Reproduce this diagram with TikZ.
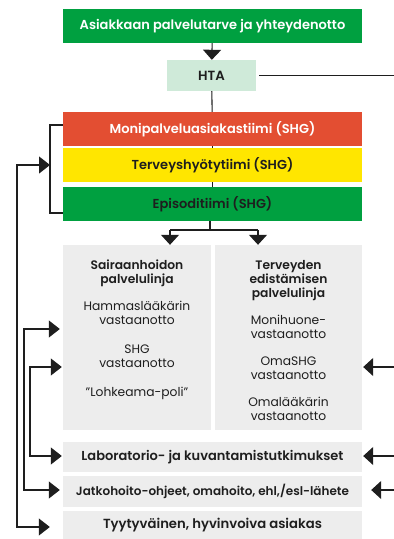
\documentclass[tikz,border=0pt]{standalone}
\usepackage{fontspec}
\setmainfont{Poppins}[BoldFont={* SemiBold}]
\usetikzlibrary{arrows.meta,positioning}
\definecolor{shggreen}{HTML}{00A040}
\definecolor{shgred}{HTML}{E34E32}
\definecolor{shgyellow}{HTML}{FFE600}
\definecolor{htagreen}{HTML}{CFEAD9}
\definecolor{boxgrey}{HTML}{EDEDED}
\definecolor{inkgrey}{HTML}{1E1E1E}
\tikzset{
  bar/.style={minimum width=299pt, minimum height=34pt, inner sep=0pt,
              text=inkgrey, font=\fontsize{13}{15}\selectfont\bfseries},
  htabox/.style={fill=htagreen, minimum width=89pt, minimum height=31pt,
                 inner sep=0pt, text=inkgrey, font=\fontsize{13.3}{15}\selectfont\bfseries},
  linebox/.style={fill=boxgrey, minimum height=185pt, inner sep=0pt},
  linetext/.style={align=center, inner sep=0pt, text=inkgrey,
                   font=\fontsize{12.3}{14}\selectfont},
  rowbox/.style={fill=boxgrey, minimum width=299pt, inner sep=0pt,
                 text=inkgrey, font=\fontsize{13}{15}\selectfont\bfseries},
  conn/.style={line width=1.1pt, draw=inkgrey},
  arr/.style={conn, -{Triangle[length=10pt, width=18pt]}},
  twoway/.style={conn, {Triangle[length=11pt, width=17pt]}-{Triangle[length=11pt, width=17pt]}}
}
\begin{document}
\begin{tikzpicture}[x=1pt, y=-1pt]
  \useasboundingbox (0,0) rectangle (394,539);
  % boxes
  \node[bar, fill=shggreen, text=white] (need) at (212.5,26) {Asiakkaan palvelutarve ja yhteydenotto};
  \node[htabox] (hta) at (211.5,75.5) {HTA};
  \node[bar, fill=shgred, text=white] (multi) at (212.5,129) {Monipalveluasiakastiimi (SHG)};
  \node[bar, fill=shgyellow] (health) at (212.5,165) {Terveyshyötytiimi (SHG)};
  \node[bar, fill=shggreen] (episode) at (212.5,204) {Episoditiimi (SHG)};
  \node[linebox, minimum width=148pt] (care) at (137,337.5) {};
  \node[linebox, minimum width=147pt] (promo) at (288.5,337.5) {};
  \node[linetext, below=15pt of care.north] (caretext)
    {\textbf{Sairaanhoidon}\\\textbf{palvelulinja}\\[13pt]
     Hammaslääkärin\\vastaanotto\\[15pt]
     SHG\\vastaanotto\\[15pt]
     "Lohkeama-poli"};
  \node[linetext, below=15pt of promo.north] (promotext)
    {\textbf{Terveyden}\\\textbf{edistämisen}\\\textbf{palvelulinja}\\[13pt]
     Monihuone-\\vastaanotto\\[13pt]
     OmaSHG\\vastaanotto\\[13pt]
     Omalääkärin\\vastaanotto};
  \node[rowbox, minimum height=30pt] (lab) at (212.5,457) {Laboratorio- ja kuvantamistutkimukset};
  \node[rowbox, minimum height=31pt, font=\fontsize{12}{14}\selectfont\bfseries] (cont) at (212.5,491.5) {Jatkohoito-ohjeet, omahoito, ehl,/esl-lähete};
  \node[rowbox, minimum height=28pt, font=\fontsize{13.2}{15}\selectfont\bfseries] (happy) at (212.5,525) {Tyytyväinen, hyvinvoiva asiakas};

  % helper points
  \coordinate (split) at (210,230);
  \coordinate (splitL) at (170,230);
  \coordinate (splitR) at (258,230);
  \coordinate (brtop) at (50,125);
  \coordinate (brbot) at (50,213);
  \coordinate (brmid) at (50,165);
  \coordinate (edge) at (394,0);

  % main flow
  \draw[arr] (need) -- (hta);
  \draw[conn] ([xshift=3pt]hta.east) -- (hta.east -| edge);
  \draw[conn] (hta) -- (multi);
  \draw[conn] (multi) -- (health);
  \draw[conn] (health) -- (episode);
  \draw[conn] (episode.south -| split) -- (split);
  \draw[conn] (splitL) -- (splitR);
  \draw[arr] (splitL) -- (splitL |- care.north);
  \draw[arr] (splitR) -- (splitR |- promo.north);

  % team bracket
  \draw[conn] (multi.west |- brtop) -- (brtop) -- (brbot) -- (episode.west |- brbot);

  % left returns
  \draw[twoway] (brmid) -| (17,527) -- ([xshift=-13pt]happy.west |- 0,527);
  \draw[twoway] ([xshift=-3pt]care.west |- 0,329) -| (24,490) -- ([xshift=-3pt]cont.west |- 0,490);
  \draw[twoway] ([xshift=-1pt]care.west |- 0,367) -| (30,456) -- ([xshift=-1pt]lab.west |- 0,456);

  % right inputs
  \draw[arr] (edge |- 0,367) -- ([xshift=1pt]promo.east |- 0,367);
  \draw[arr] (edge |- 0,456) -- ([xshift=1pt]lab.east |- 0,456);
  \draw[arr] (edge |- 0,490) -- ([xshift=9pt]cont.east |- 0,490);
\end{tikzpicture}
\end{document}
